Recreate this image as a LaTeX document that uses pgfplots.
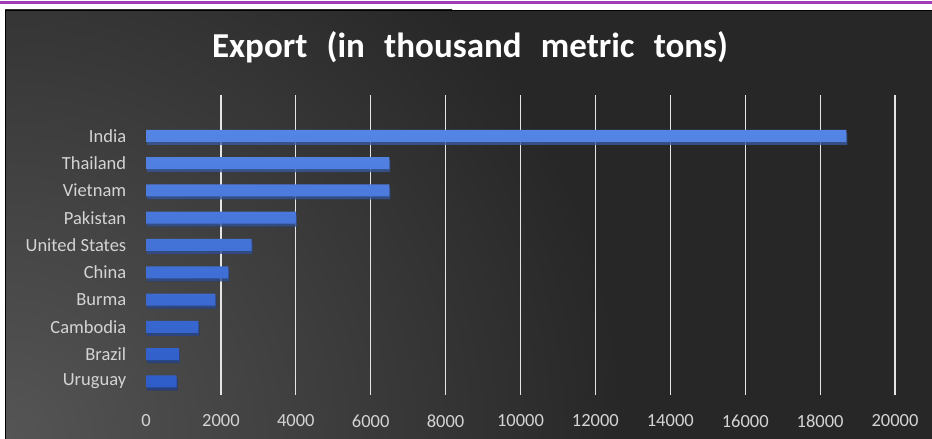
\documentclass[border=0pt]{standalone}
\usepackage{pgfplots}
\pgfplotsset{compat=1.18}
\usepackage{fontspec}
\setmainfont{Carlito}
\usetikzlibrary{shadows}
\definecolor{bg}{HTML}{272727}
\definecolor{bglight}{HTML}{555555}
\definecolor{purp}{HTML}{A23CB6}
\definecolor{lbl}{HTML}{D4D4D4}
\definecolor{barTop}{HTML}{5585E4}
\definecolor{barBot}{HTML}{2E5CC8}
\begin{document}
\begin{tikzpicture}[x=1pt,y=1pt]
\useasboundingbox (0,0) rectangle (932,439);
\fill[white] (0,0) rectangle (932,439);
\fill[purp] (0,435) rectangle (932,437.5);
\begin{scope}
\clip (5,0) rectangle (932,429);
\fill[bg] (5,0) rectangle (932,429);
\shade[inner color=bglight, outer color=bg] (5,0) circle (620);
\end{scope}
\fill[black] (5,0) rectangle (6,429);
\fill[black] (5,428) rectangle (932,429);
\node[white, font=\bfseries\fontsize{35}{40}\selectfont] at (470,392) {Export\hspace{0.55em}(in\hspace{0.55em}thousand\hspace{0.55em}metric\hspace{0.55em}tons)};
\begin{axis}[
  at={(146pt,44pt)}, anchor=south west, scale only axis,
  width=749pt, height=300pt,
  xmin=0, xmax=20000, ymin=-0.5, ymax=10.5,
  xbar, bar width=12pt,
  axis line style={draw=none}, tick style={draw=none},
  xtick={2000,4000,...,20000},
  extra x ticks={0}, extra x tick style={grid=none},
  xmajorgrids, major grid style={white!90!black, line width=1.2pt},
  ytick={0,...,9},
  yticklabels={Uruguay,Brazil,Cambodia,Burma,China,United States,Pakistan,Vietnam,Thailand,India},
  scaled x ticks=false,
  /pgf/number format/1000 sep={},
  /pgf/number format/assume math mode=true,
  ticklabel style={font=\fontsize{18.5}{20}\selectfont, text=lbl},
  xticklabel style={yshift=-16pt},
  yticklabel style={xshift=-12pt},
]
\addplot[draw=none, top color=barTop, bottom color=barBot,
  drop shadow={shadow xshift=1pt, shadow yshift=-3pt, fill=black, opacity=0.55}]
  coordinates {(820,0) (880,1) (1400,2) (1850,3) (2200,4) (2820,5) (4000,6) (6500,7) (6500,8) (18700,9)};
\end{axis}
\end{tikzpicture}
\end{document}
